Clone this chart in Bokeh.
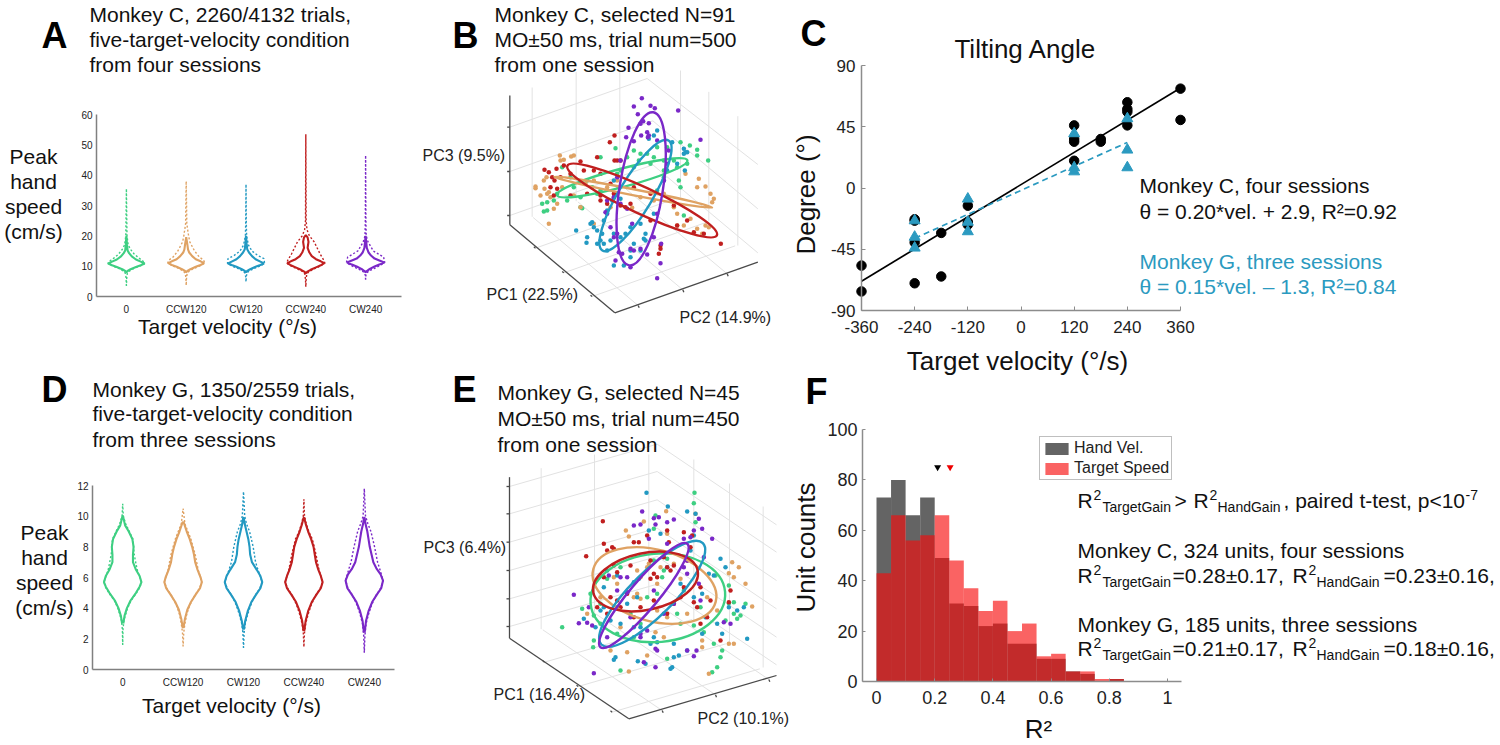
from bokeh.plotting import figure
from bokeh.models import Range1d, Label, FixedTicker, Legend, LegendItem, LinearAxis
from bokeh.embed import file_html
from bokeh.resources import INLINE

FONT = "Liberation Sans"
CATEGORIES = ["0", "CCW120", "CW120", "CCW240", "CW240"]
COLORS = ["#3ecf82", "#dfa263", "#2299c2", "#c01f1f", "#7a28c8"]
TEAL = "#2b9ac0"

# ---- Panel A violins: peak hand speed (cm/s) and half width (category units)
a_solid_y = [
    [8.0, 8.4, 9.0, 9.7, 10.3, 10.9, 11.5, 12.2, 13.2, 14.3, 15.2, 17.0, 20.0],
    [8.0, 8.4, 9.0, 9.8, 10.4, 11.0, 11.6, 12.3, 13.3, 14.5, 15.5, 17.0, 19.6],
    [8.0, 8.4, 9.0, 9.8, 10.4, 10.9, 11.5, 12.3, 13.3, 14.5, 15.6, 17.5, 20.0],
    [7.7, 8.1, 8.8, 9.6, 10.4, 11.0, 11.6, 12.3, 13.3, 14.5, 16.0, 18.0, 19.5, 20.2],
    [8.0, 8.4, 9.1, 9.9, 10.6, 11.2, 11.8, 12.5, 13.5, 14.5, 16.0, 18.0, 20.0],
]
a_solid_w = [
    [.00, .02, .07, .16, .24, .305, .24, .16, .09, .045, .02, .01, .00],
    [.00, .02, .07, .16, .24, .30, .24, .16, .10, .05, .03, .02, .00],
    [.00, .02, .07, .16, .24, .30, .24, .16, .10, .05, .02, .01, .00],
    [.00, .02, .08, .17, .26, .31, .25, .17, .10, .06, .03, .045, .03, .00],
    [.00, .02, .07, .15, .24, .31, .24, .15, .09, .05, .02, .01, .00],
]
a_dot_y = [
    [3.5, 6.0, 7.6, 8.4, 9.2, 10.0, 10.9, 11.8, 12.8, 14.0, 15.5, 17.0, 20.0, 35.5],
    [3.8, 6.0, 7.6, 8.4, 9.2, 10.0, 11.0, 12.0, 13.0, 15.0, 18.0, 20.0, 24.0, 38.0],
    [5.0, 6.5, 7.7, 8.4, 9.2, 10.0, 10.9, 12.5, 13.5, 15.0, 17.0, 20.0, 24.0, 37.0],
    [3.2, 5.5, 7.4, 8.2, 9.0, 10.0, 11.0, 12.0, 14.0, 16.0, 18.0, 20.0, 22.0, 25.0, 53.5],
    [5.5, 7.0, 7.8, 8.5, 9.2, 10.2, 11.2, 13.0, 15.0, 18.0, 20.0, 24.0, 46.5],
]
a_dot_w = [
    [.00, .005, .015, .05, .12, .22, .31, .27, .20, .13, .07, .03, .01, .00],
    [.00, .005, .015, .05, .12, .22, .31, .29, .22, .14, .06, .04, .01, .00],
    [.00, .005, .015, .05, .13, .23, .31, .30, .20, .10, .04, .01, .005, .00],
    [.00, .005, .015, .05, .13, .24, .32, .30, .24, .19, .14, .06, .02, .005, .00],
    [.00, .005, .02, .06, .14, .24, .32, .30, .13, .04, .01, .005, .00],
]

# ---- Panel D violins
d_solid_y = [
    [3.0, 3.5, 4.0, 4.5, 5.0, 5.4, 5.7, 6.1, 6.5, 7.0, 7.5, 8.0, 8.5, 9.0, 9.4, 10.0],
    [2.7, 3.3, 3.9, 4.4, 4.9, 5.3, 5.7, 6.0, 6.5, 7.0, 7.5, 8.0, 8.5, 9.0, 9.6],
    [2.6, 3.2, 3.8, 4.4, 4.9, 5.3, 5.7, 6.1, 6.5, 7.0, 7.5, 8.0, 8.5, 9.0, 9.5, 9.9],
    [2.5, 3.2, 3.8, 4.4, 4.9, 5.3, 5.7, 6.1, 6.5, 7.0, 7.5, 8.0, 8.5, 9.0, 9.5, 9.9],
    [2.4, 3.2, 3.8, 4.4, 4.9, 5.3, 5.8, 6.2, 6.6, 7.0, 7.5, 8.0, 8.5, 9.0, 9.5, 9.9],
]
d_solid_w = [
    [.01, .03, .07, .13, .22, .28, .31, .28, .22, .17, .17, .18, .16, .10, .04, .005],
    [.005, .03, .07, .13, .21, .28, .31, .29, .24, .20, .18, .15, .11, .06, .01],
    [.005, .03, .07, .13, .21, .28, .31, .28, .22, .14, .11, .10, .08, .05, .02, .005],
    [.005, .03, .07, .13, .21, .28, .31, .28, .24, .20, .18, .16, .12, .07, .03, .005],
    [.005, .03, .07, .13, .21, .28, .31, .27, .20, .15, .12, .09, .07, .05, .02, .005],
]
d_dot_y = [
    [1.6, 2.6, 3.2, 4.0, 4.5, 5.0, 5.4, 5.7, 6.5, 7.5, 8.5, 9.0, 9.5, 10.0, 10.8],
    [1.5, 2.4, 3.0, 3.6, 4.2, 4.8, 5.3, 5.7, 6.5, 7.5, 8.5, 9.0, 9.5, 10.5],
    [1.4, 2.4, 3.0, 3.6, 4.2, 4.8, 5.3, 5.7, 6.5, 7.0, 8.0, 9.0, 9.5, 10.0, 11.6],
    [1.5, 2.4, 3.0, 3.6, 4.2, 4.8, 5.3, 5.7, 6.5, 7.5, 8.5, 9.0, 9.5, 10.0, 11.1],
    [1.1, 2.2, 3.0, 3.6, 4.2, 4.8, 5.3, 5.8, 6.5, 7.0, 8.0, 9.0, 9.5, 10.0, 11.8],
]
d_dot_w = [
    [.00, .005, .02, .08, .14, .23, .29, .31, .24, .19, .17, .11, .05, .01, .00],
    [.00, .01, .03, .06, .11, .19, .27, .31, .25, .20, .13, .08, .03, .00],
    [.00, .01, .03, .07, .12, .19, .27, .31, .24, .20, .16, .10, .05, .02, .00],
    [.00, .01, .03, .07, .12, .19, .27, .31, .25, .20, .14, .08, .04, .01, .00],
    [.00, .01, .03, .07, .12, .19, .27, .31, .26, .22, .17, .11, .06, .02, .00],
]

# ---- Panel C: tilting angle
c_circle_x = [-360, -360, -240, -240, -240, -240, -180, -180, -120, -120, -120, 120, 120, 120, 120,
              180, 180, 240, 240, 240, 240, 360, 360]
c_circle_y = [-57, -76, -23, -24, -40, -70, -33, -65, -13, -25, -27, 46, 36, 34, 20,
              36, 34, 63, 58, 56, 46, 73, 50]
c_tri_x = [-240, -240, -240, -120, -120, -120, 120, 120, 120, 240, 240, 240]
c_tri_y = [-24, -36, -44, -8, -25, -32, 40, 15, 12, 51, 28, 15]
c_fit1_x = [-360, 360]
c_fit1_y = [-68.5, 73.5]
c_fit2_x = [-240, 240]
c_fit2_y = [-37, 33.5]
c_xticks = [-360, -240, -120, 0, 120, 240, 360]
c_yticks = [-90, -45, 0, 45, 90]

# ---- Panel F: histograms
f_edges = [i * 0.05 for i in range(18)]
f_hand = [73, 80, 66, 73, 49, 31, 30, 22, 23, 15, 15, 9, 9, 4, 3, 0, 1]
f_target = [43, 66, 56, 58, 66, 48, 37, 28, 32, 20, 23, 10, 11, 4, 4, 1, 1]
f_mean_x = [0.21, 0.253]
f_mean_y = [85, 85]
f_xticks = [0, 0.2, 0.4, 0.6, 0.8, 1]
f_yticks = [0, 20, 40, 60, 80, 100]

# ---- Panel B: projected 3-D scatter, in projected units
b_box_x0 = [328, 328, 643, 320, 320, 320, 405, 490, 575, 713, 847, 980]
b_box_y0 = [45, 433, 697, 140, 273, 405, 503, 577, 648, 675, 628, 580]
b_box_x1 = [328, 643, 1072, 328, 328, 328, 400, 485, 570, 716, 850, 983]
b_box_y1 = [433, 697, 545, 140, 273, 405, 499, 573, 644, 682, 635, 587]
b_grid_x0 = [328, 328, 328, 740, 757, 757, 395, 527, 658, 840, 925, 1012,
             713, 847, 980, 405, 490, 575]
b_grid_y0 = [140, 273, 405, -6, 121, 253, 409, 362, 316, -30, 34, 107,
             675, 628, 580, 503, 577, 648]
b_grid_x1 = [740, 757, 757, 1072, 1072, 1072, 395, 527, 658, 840, 925, 1012,
             398, 532, 665, 834, 919, 1004]
b_grid_y1 = [-6, 121, 253, 252, 385, 517, 21, -26, -30, 351, 422, 495,
             411, 364, 316, 351, 425, 496]
b_pts_x = [
    [840, 868, 890, 923, 890, 860, 830, 835, 840, 790, 770, 740, 700, 715, 680, 660, 645, 600, 485, 510, 560, 575, 520, 470, 460, 440, 425, 430, 440, 500, 540, 540, 545, 590, 600, 650, 700, 750, 790, 820, 800, 760, 850, 770, 790, 720],
    [478, 490, 512, 520, 480, 438, 430, 405, 405, 432, 445, 450, 440, 420, 470, 460, 445, 520, 540, 555, 580, 620, 650, 630, 695, 720, 760, 790, 820, 830, 850, 870, 890, 915, 925, 930, 940, 935, 895, 915, 890, 855, 830, 580, 905, 485],
    [770, 760, 745, 815, 850, 855, 800, 790, 760, 720, 690, 675, 660, 735, 730, 700, 640, 630, 610, 590, 560, 558, 580, 575, 590, 600, 527, 570, 610, 620, 635, 650, 655, 640, 660, 690, 670, 640, 690, 735, 720, 620, 605, 860, 850, 853, 830],
    [642, 628, 642, 650, 590, 540, 490, 468, 432, 445, 455, 462, 450, 470, 480, 510, 550, 580, 600, 600, 560, 630, 640, 620, 640, 660, 675, 690, 780, 780, 775, 830, 880, 910, 961, 860, 820, 750, 700, 750, 660, 510, 460, 600],
    [724, 700, 750, 763, 833, 712, 684, 677, 740, 745, 728, 742, 700, 660, 650, 640, 620, 615, 630, 660, 680, 695, 640, 655, 645, 665, 690, 700, 720, 740, 780, 782, 770, 760, 770, 790, 800, 805, 770, 745, 722, 900, 720, 690, 650, 620],
]
b_pts_y = [
    [185, 195, 225, 240, 208, 250, 260, 300, 320, 270, 200, 220, 210, 240, 230, 270, 203, 230, 260, 290, 300, 320, 320, 340, 360, 365, 370, 393, 390, 360, 350, 380, 383, 340, 330, 280, 260, 250, 240, 240, 200, 230, 405, 330, 290, 220],
    [225, 238, 228, 225, 240, 290, 300, 318, 323, 325, 335, 350, 340, 345, 370, 385, 430, 345, 380, 310, 300, 320, 300, 380, 382, 350, 360, 340, 380, 400, 435, 415, 445, 435, 440, 340, 355, 365, 295, 318, 320, 280, 435, 430, 460, 320],
    [150, 165, 175, 185, 205, 215, 270, 300, 400, 430, 440, 460, 470, 460, 475, 490, 460, 480, 490, 490, 470, 487, 440, 425, 450, 480, 450, 430, 420, 390, 360, 340, 320, 300, 355, 530, 555, 555, 510, 480, 510, 510, 460, 215, 220, 270, 250],
    [165, 185, 240, 240, 230, 243, 255, 265, 268, 275, 290, 300, 320, 325, 290, 280, 270, 270, 345, 360, 340, 310, 340, 370, 350, 375, 380, 370, 495, 505, 520, 435, 455, 460, 490, 420, 375, 420, 320, 340, 240, 345, 345, 280],
    [53, 78, 76, 83, 90, 101, 142, 170, 155, 128, 122, 170, 182, 240, 290, 350, 360, 395, 440, 370, 385, 430, 470, 515, 540, 520, 560, 510, 505, 522, 548, 490, 593, 470, 400, 300, 250, 210, 180, 165, 165, 178, 130, 505, 460, 400],
]
b_ell_x = [665, 698, 705, 725, 722]
b_ell_y = [292, 335, 345, 360, 325]
b_ell_w = [405, 482, 385, 495, 465]
b_ell_h = [55, 18, 100, 80, 130]
b_ell_a = [15, -11, 59, -25, 81]

# ---- Panel E
e_box_x0 = [327, 327, 685, 318, 318, 318, 318, 318, 318, 432, 533, 635, 785, 945, 1105]
e_box_y0 = [80, 563, 805, 108, 190, 275, 360, 445, 528, 635, 708, 785, 780, 733, 687]
e_box_x1 = [327, 685, 1128, 327, 327, 327, 327, 327, 327, 427, 528, 630, 788, 948, 1108]
e_box_y1 = [563, 805, 675, 108, 190, 275, 360, 445, 528, 631, 704, 781, 787, 740, 694]
e_grid_x0 = [327, 327, 327, 327, 327, 327, 770, 770, 770, 770, 770, 770, 422, 582, 745, 880, 987, 1088,
             785, 945, 1105, 432, 533, 635]
e_grid_y0 = [108, 190, 275, 360, 445, 528, -19, 63, 148, 233, 318, 401, 536, 490, 443, 510, 582, 651,
             780, 733, 687, 635, 708, 785]
e_grid_x1 = [770, 770, 770, 770, 770, 770, 1128, 1128, 1128, 1128, 1128, 1128, 422, 582, 745, 880, 987, 1088,
             427, 587, 747, 875, 976, 1078]
e_grid_y1 = [-19, 63, 148, 233, 318, 401, 223, 305, 390, 475, 560, 643, 53, 12, 12, 27, 99, 168,
             538, 491, 445, 507, 580, 655]
e_pts_x = [
    [882, 880, 765, 760, 885, 800, 785, 770, 740, 945, 985, 985, 1020, 1010, 975, 965, 950, 935, 940, 910, 800, 660, 580, 578, 545, 485, 580, 600, 650, 690, 720, 830, 850, 900, 880, 960, 1000, 660, 620, 570, 600, 790, 840, 760, 700, 650, 1035, 1000],
    [797, 730, 676, 685, 885, 800, 740, 745, 820, 995, 1015, 985, 1000, 1055, 1035, 905, 1000, 985, 905, 925, 740, 680, 685, 560, 600, 650, 710, 720, 700, 770, 800, 860, 920, 770, 840, 790, 765, 630, 660, 780, 640, 600, 720, 950, 710],
    [738, 802, 860, 885, 745, 780, 880, 870, 960, 975, 925, 905, 985, 1010, 1030, 1040, 965, 905, 820, 860, 835, 820, 815, 810, 735, 712, 645, 640, 750, 770, 610, 600, 550, 585, 630, 660, 700, 710, 715, 700, 650, 610, 620, 800, 840, 880, 915, 940, 720, 760, 680, 950],
    [607, 557, 610, 620, 635, 640, 700, 715, 740, 800, 850, 805, 870, 875, 860, 800, 810, 820, 760, 770, 750, 640, 650, 690, 610, 630, 650, 680, 720, 760, 820, 840, 880, 890, 920, 990, 985, 960, 900, 800, 700, 660, 620, 590, 750, 790, 900, 850, 930],
    [725, 760, 775, 765, 700, 720, 800, 820, 895, 880, 905, 850, 935, 870, 745, 800, 860, 910, 895, 860, 850, 660, 625, 650, 680, 520, 565, 535, 560, 575, 620, 720, 720, 690, 770, 765, 765, 580, 730, 860, 880, 888, 990, 970, 760, 680, 900, 790, 820, 740],
]
e_pts_y = [
    [127, 158, 195, 235, 215, 325, 380, 430, 440, 375, 405, 458, 495, 505, 510, 600, 650, 665, 580, 545, 625, 660, 570, 590, 475, 530, 495, 520, 470, 490, 520, 490, 420, 470, 525, 620, 490, 350, 385, 430, 460, 360, 520, 330, 560, 550, 460, 455],
    [182, 213, 240, 258, 190, 250, 350, 340, 340, 335, 350, 368, 380, 468, 400, 570, 580, 580, 590, 670, 615, 605, 663, 490, 440, 400, 430, 445, 440, 480, 500, 490, 440, 400, 385, 560, 545, 600, 530, 350, 380, 375, 380, 480, 360],
    [127, 168, 183, 190, 240, 250, 255, 300, 325, 350, 370, 430, 470, 480, 470, 565, 550, 550, 580, 600, 615, 620, 650, 655, 640, 632, 620, 628, 580, 575, 470, 480, 505, 530, 510, 520, 530, 440, 385, 395, 375, 410, 360, 350, 400, 440, 500, 375, 530, 560, 460, 520],
    [212, 317, 280, 300, 290, 295, 275, 275, 255, 240, 245, 275, 290, 255, 330, 350, 360, 345, 370, 380, 385, 345, 365, 345, 380, 440, 450, 430, 470, 450, 460, 440, 455, 470, 500, 420, 455, 570, 520, 490, 500, 470, 490, 470, 330, 320, 410, 410, 450],
    [183, 203, 200, 222, 225, 222, 215, 207, 205, 240, 235, 265, 265, 260, 265, 280, 330, 320, 400, 370, 350, 380, 375, 420, 425, 433, 470, 518, 517, 525, 560, 560, 550, 500, 600, 595, 650, 668, 635, 600, 617, 600, 520, 515, 420, 380, 450, 490, 460, 540],
]
e_ell_x = [772, 762, 755, 735, 730]
e_ell_y = [442, 405, 430, 393, 435]
e_ell_w = [405, 380, 430, 320, 405]
e_ell_h = [265, 215, 130, 170, 85]
e_ell_a = [5, -15, 45, 12, 50]

W, H = 1500, 745
p = figure(width=W, height=H, x_range=Range1d(0, W), y_range=Range1d(H, 0),
           x_axis_location=None, y_axis_location=None,
           min_border=0, toolbar_location=None, output_backend="svg",
           background_fill_color="white", border_fill_color="white",
           outline_line_color=None)
p.grid.visible = False


def add_ranges(name, xa, xb, px0, px1, ya, yb, py0, py1):
    """Scale name: data xa..xb lies on pixels px0..px1, data ya..yb on rows py0..py1."""
    kx = (xb - xa) / (px1 - px0)
    p.extra_x_ranges[name] = Range1d(xa - px0 * kx, xa + (W - px0) * kx)
    ky = (yb - ya) / (py0 - py1)
    p.extra_y_ranges[name] = Range1d(ya - (H - py0) * ky, ya + py0 * ky)
    return dict(x_range_name=name, y_range_name=name)


BASE = 0.38


def txt(x, y, s, size, color="#111111", align="left", style="normal", angle=0):
    if angle:
        x -= BASE * size
    else:
        y -= BASE * size
    p.add_layout(Label(x=x, y=H - y, x_units="screen", y_units="screen", text=s,
                       text_font=FONT, text_font_size=f"{size}px", text_color=color,
                       text_align=align, text_baseline="alphabetic",
                       text_font_style=style, angle=angle, angle_units="deg"))


def make_axis(side, names, loc, bounds, ticks, tick_size, line="#808080", lw=1.5,
              tick_in=0, standoff=5, overrides=None):
    ax = LinearAxis(fixed_location=loc, bounds=bounds, ticker=FixedTicker(ticks=ticks), **names)
    ax.axis_line_color = line
    ax.axis_line_width = lw
    ax.major_tick_line_color = line
    ax.major_tick_in = tick_in
    ax.major_tick_out = 0
    ax.minor_tick_line_color = None
    ax.major_label_text_font = FONT
    ax.major_label_text_font_size = f"{tick_size}px"
    ax.major_label_text_color = "#222222"
    ax.major_label_standoff = standoff
    ax.major_label_overrides = overrides or {t: str(t) for t in ticks}
    p.add_layout(ax, side)
    return ax


def violin_panel(name, xlim, px, ymax, ystep, py, sy, sw, dy, dw):
    names = add_ranges(name, xlim[0], xlim[1], px[0], px[1], 0, ymax, py[1], py[0])
    make_axis("below", names, 0, xlim, [1, 2, 3, 4, 5], 10, standoff=7,
              overrides={i + 1: c for i, c in enumerate(CATEGORIES)})
    make_axis("left", names, xlim[0], (0, ymax), list(range(0, ymax + 1, ystep)), 10, standoff=4)
    for i, c in enumerate(COLORS):
        pos = i + 1
        for ys, ws, lw, dash in ((dy[i], dw[i], 1.4, "2 2"), (sy[i], sw[i], 2.1, "solid")):
            xs = [pos - w for w in ws] + [pos + w for w in reversed(ws)]
            yy = list(ys) + list(reversed(ys))
            p.line(xs, yy, line_color=c, line_width=lw, line_dash=dash, **names)


def cloud_panel(name, ox, oy, box, grid, px, py, ell):
    names = add_ranges(name, 0, 3, ox, ox + 1, 0, 3, oy, oy + 1)
    p.segment(*grid, line_color="#e2e2e2", line_width=1, **names)
    p.segment(*box, line_color="#4a4a4a", line_width=1.3, **names)
    for i, c in enumerate(COLORS):
        p.scatter(px[i], py[i], size=4.5, fill_color=c, line_color=c, line_width=0, **names)
    for i, c in enumerate(COLORS):
        p.ellipse(x=[ell[0][i]], y=[ell[1][i]], width=[ell[2][i]], height=[ell[3][i]],
                  angle=[ell[4][i]], angle_units="deg", fill_color=None,
                  line_color=c, line_width=2.4, **names)


# ---- A
violin_panel("A", (0.5, 5.6), (96, 401), 60, 10, (114, 296), a_solid_y, a_solid_w, a_dot_y, a_dot_w)
txt(41, 49, "A", 36, "#000000", style="bold")
for y, s in ((22, "Monkey C, 2260/4132 trials,"), (47, "five-target-velocity condition"), (72, "from four sessions")):
    txt(89, y, s, 21)
for y, s in ((164, "Peak"), (189, "hand"), (214, "speed"), (239, "(cm/s)")):
    txt(33, y, s, 21, align="center")
txt(227, 334, "Target velocity (°/s)", 21, align="center")

# ---- B
cloud_panel("B", 400, 80, (b_box_x0, b_box_y0, b_box_x1, b_box_y1),
            (b_grid_x0, b_grid_y0, b_grid_x1, b_grid_y1),
            b_pts_x, b_pts_y, (b_ell_x, b_ell_y, b_ell_w, b_ell_h, b_ell_a))
txt(452, 49, "B", 36, "#000000", style="bold")
for y, s in ((22, "Monkey C, selected N=91"), (47, "MO±50 ms, trial num=500"), (72, "from one session")):
    txt(494, y, s, 21)
txt(422, 161, "PC3 (9.5%)", 16, "#222222")
txt(486, 300, "PC1 (22.5%)", 16, "#222222")
txt(679, 323, "PC2 (14.9%)", 16, "#222222")

# ---- C
cn = add_ranges("C", -360, 360, 861, 1180, -90, 90, 310, 65)
make_axis("below", cn, -90, (-360, 360), c_xticks, 17, line="#8c8c8c", tick_in=4, standoff=10)
make_axis("left", cn, -360, (-90, 90), c_yticks, 17, line="#8c8c8c", tick_in=4, standoff=6)
p.scatter(c_circle_x, c_circle_y, size=9.5, fill_color="#000000", line_color="#000000", **cn)
p.line(c_fit1_x, c_fit1_y, line_color="#000000", line_width=1.7, **cn)
p.line(c_fit2_x, c_fit2_y, line_color=TEAL, line_width=1.7, line_dash="6 4", **cn)
p.scatter(c_tri_x, c_tri_y, marker="triangle", size=11, fill_color=TEAL, line_color=TEAL, **cn)
txt(800, 47, "C", 36, "#000000", style="bold")
txt(1025, 58, "Tilting Angle", 26, align="center")
txt(1017, 370, "Target velocity (°/s)", 26, align="center")
txt(815, 194, "Degree (°)", 26, align="center", angle=90)
txt(1139, 193, "Monkey C, four sessions", 21)
txt(1139, 219, "θ = 0.20*vel. + 2.9, R²=0.92", 21)
txt(1139, 269, "Monkey G, three sessions", 21, TEAL)
txt(1139, 294, "θ = 0.15*vel. – 1.3, R²=0.84", 21, TEAL)

# ---- D
violin_panel("D", (0.5, 5.5), (92, 394), 12, 2, (485, 669), d_solid_y, d_solid_w, d_dot_y, d_dot_w)
txt(41, 403, "D", 36, "#000000", style="bold")
for y, s in ((397, "Monkey G, 1350/2559 trials,"), (421, "five-target-velocity condition"), (447, "from three sessions")):
    txt(92, y, s, 21)
for y, s in ((540, "Peak"), (565, "hand"), (590, "speed"), (615, "(cm/s)")):
    txt(44, y, s, 21, align="center")
txt(231, 713, "Target velocity (°/s)", 21, align="center")

# ---- E
cloud_panel("E", 400, 450, (e_box_x0, e_box_y0, e_box_x1, e_box_y1),
            (e_grid_x0, e_grid_y0, e_grid_x1, e_grid_y1),
            e_pts_x, e_pts_y, (e_ell_x, e_ell_y, e_ell_w, e_ell_h, e_ell_a))
txt(452, 403, "E", 36, "#000000", style="bold")
for y, s in ((400, "Monkey G, selected N=45"), (426, "MO±50 ms, trial num=450"), (452, "from one session")):
    txt(497, y, s, 21)
txt(423, 553, "PC3 (6.4%)", 16, "#222222")
txt(493, 700, "PC1 (16.4%)", 16, "#222222")
txt(697, 724, "PC2 (10.1%)", 16, "#222222")

# ---- F
fn = add_ranges("F", 0, 1, 876, 1167, 0, 100, 681, 429)
xl, xr = -0.048, 1.048
make_axis("below", fn, 0, (xl, xr), f_xticks, 18, line="#8c8c8c", tick_in=3, standoff=9,
          overrides={t: str(t) for t in f_xticks})
make_axis("left", fn, xl, (0, 100), f_yticks, 18, line="#8c8c8c", tick_in=3, standoff=5)
r1 = p.quad(left=f_edges[:-1], right=f_edges[1:], bottom=0, top=f_hand,
            fill_color="#646464", line_color=None, **fn)
r2 = p.quad(left=f_edges[:-1], right=f_edges[1:], bottom=0, top=f_target,
            fill_color="#f80c0c", fill_alpha=0.645, line_color=None, **fn)
p.scatter(f_mean_x, f_mean_y, marker="inverted_triangle", size=7,
          fill_color=["#000000", "#ee0000"], line_color=None, **fn)
leg = Legend(items=[LegendItem(label="Hand Vel.", renderers=[r1]),
                    LegendItem(label="Target Speed", renderers=[r2])],
             location=(1039, 265), border_line_color="#808080", border_line_width=1,
             background_fill_alpha=1.0, padding=2, spacing=2, margin=0,
             glyph_width=29, glyph_height=15, label_height=15, label_standoff=3,
             label_text_font=FONT, label_text_font_size="16px", label_text_color="#222222")
p.add_layout(leg)
txt(805, 405, "F", 36, "#000000", style="bold")
txt(1038, 738, "R²", 26, align="center")
txt(815, 547, "Unit counts", 26, align="center", angle=90)


def r2_term(x, base, word, wx):
    txt(x, base, "R", 21)
    txt(x + 16, base - 8, "2", 14)
    txt(wx, base + 4, word, 14)


r2_term(1077, 508, "TargetGain", 1102)
txt(1174, 508, ">", 21)
r2_term(1193, 508, "HandGain", 1217)
txt(1283, 508, ", paired t-test, p<10", 21)
txt(1465, 500, "-7", 14)
txt(1077, 558, "Monkey C, 324 units, four sessions", 21)
r2_term(1077, 583, "TargetGain", 1102)
txt(1172, 583, "=0.28±0.17,", 21)
r2_term(1292, 583, "HandGain", 1316)
txt(1383, 583, "=0.23±0.16,", 21)
txt(1077, 632, "Monkey G, 185 units, three sessions", 21)
r2_term(1077, 656, "TargetGain", 1102)
txt(1172, 656, "=0.21±0.17,", 21)
r2_term(1292, 656, "HandGain", 1316)
txt(1383, 656, "=0.18±0.16,", 21)

open("out.html", "w").write(file_html(p, INLINE))
